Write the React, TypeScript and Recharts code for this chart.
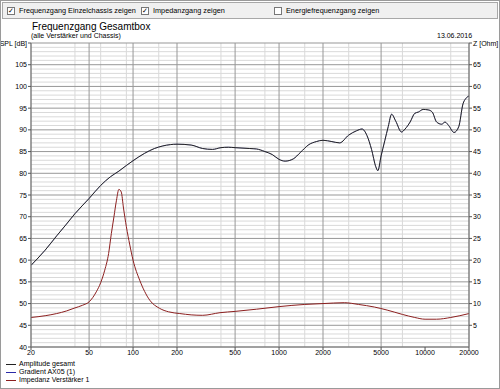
import { CartesianGrid, Line, LineChart, XAxis, YAxis } from "recharts";

// Frequenzgang Gesamtbox
const splFreq = [
  20, 25, 30, 35, 40, 50, 60, 70, 80, 90, 100, 120, 140, 160, 180, 200, 250, 300, 350, 400,
  450, 500, 630, 700, 800, 900, 1000, 1100, 1250, 1400, 1600, 1800, 2000, 2300, 2600, 3000,
  3400, 3700, 4000, 4300, 4600, 4750, 5000, 5300, 5600, 5900, 6300, 6900, 7300, 7900, 8500,
  9000, 9700, 10500, 11200, 12000, 13000, 13700, 14500, 15800, 17000, 18200, 19000, 20000,
];
const splDb = [
  58.8, 62.3, 65.6, 68.3, 70.7, 74.2, 77.2, 79.2, 80.5, 81.8, 82.9, 84.6, 85.7, 86.3, 86.6,
  86.7, 86.5, 85.7, 85.5, 85.9, 86.0, 85.9, 85.7, 85.6, 85.0, 84.3, 83.2, 82.8, 83.3, 84.8,
  86.6, 87.3, 87.6, 87.3, 87.0, 88.8, 89.8, 90.2, 88.7, 85.5, 81.5, 80.6, 84.0, 87.5, 90.8,
  93.6, 92.0, 89.5, 90.2, 91.8, 93.8, 94.1, 94.7, 94.6, 94.1, 91.8, 91.3, 91.8, 91.0, 89.4,
  90.7, 96.0, 97.2, 97.8,
];

const zFreq = [
  20, 25, 30, 35, 40, 45, 50, 56, 60, 64, 68, 71, 74, 77, 80, 83, 86, 90, 95, 100, 111, 120,
  130, 152, 175, 209, 250, 300, 394, 500, 700, 1000, 1500, 2000, 2800, 3500, 4500, 5500, 7000,
  8500, 10000, 12000, 15000, 20000,
];
const zOhm = [
  6.8, 7.2, 7.7, 8.3, 9.0, 9.6, 10.4, 12.7, 14.8, 17.7, 21.5, 26.1, 30.0, 33.8, 36.3, 35.7,
  32.0, 27.7, 23.5, 20.0, 15.4, 12.8, 10.8, 8.9, 8.1, 7.7, 7.4, 7.3, 7.9, 8.2, 8.7, 9.3, 9.8,
  10.0, 10.2, 9.8, 9.2, 8.5, 7.5, 6.8, 6.4, 6.4, 6.8, 7.7,
];

const xTicks = [20, 50, 100, 200, 500, 1000, 2000, 5000, 10000, 20000];
const xMinor = [
  30, 40, 60, 70, 80, 90, 150, 300, 400, 600, 700, 800, 900, 1500, 3000, 4000, 6000, 7000,
  8000, 9000, 15000,
];
const splTicks = [40, 45, 50, 55, 60, 65, 70, 75, 80, 85, 90, 95, 100, 105, 110];
const zTicks = [5, 10, 15, 20, 25, 30, 35, 40, 45, 50, 55, 60, 65, 70];

const legendItems = [
  { name: "Amplitude gesamt", color: "#222222" },
  { name: "Gradient AX05 (1)", color: "#2a2aa8" },
  { name: "Impedanz Verstärker 1", color: "#8c1f1f" },
];

const splData = splFreq.map((f, i) => ({ f, y: splDb[i] }));
const zData = zFreq.map((f, i) => ({ f, z: zOhm[i] }));
const yMinor = Array.from({ length: 69 }, (_, i) => 41 + i).filter((v) => v % 5 !== 0);

const FONT = "'Liberation Sans', Arial, sans-serif";

// tick ohne Zeilenumbruch (Recharts-Text bricht "SPL [dB]" sonst um)
function AxisTick(props: any) {
  const { x, y, payload, textAnchor, label } = props;
  const v = payload.value;
  const txt = label && label[0] === v ? label[1] : String(v);
  return (
    <text x={x} y={y} dy={2.5} textAnchor={textAnchor} fontSize={7} fontFamily={FONT} fill="#000">
      {txt}
    </text>
  );
}

function Check({ x, label, checked }: { x: number; label: string; checked: boolean }) {
  return (
    <>
      <div
        style={{
          position: "absolute",
          left: x,
          top: 6,
          width: 6,
          height: 6,
          border: "1px solid #777",
          background: "#fff",
          fontSize: 7,
          lineHeight: "6px",
          textAlign: "center",
        }}
      >
        {checked ? "✓" : ""}
      </div>
      <div style={{ position: "absolute", left: x + 12, top: 5, fontSize: 7.3, lineHeight: "9px" }}>
        {label}
      </div>
    </>
  );
}

export default function App() {
  return (
    <div
      style={{
        position: "absolute",
        left: 0,
        top: 0,
        width: 498,
        height: 387,
        border: "1px solid #9a9a9a",
        background: "#fff",
        fontFamily: FONT,
        color: "#000",
        overflow: "hidden",
      }}
    >
      <div
        style={{
          position: "absolute",
          left: 1,
          top: 1,
          width: 494,
          height: 15,
          border: "1px solid #a8a8a8",
          background: "#f0f0f0",
        }}
      />
      <Check x={6} label="Frequenzgang Einzelchassis zeigen" checked />
      <Check x={140} label="Impedanzgang zeigen" checked />
      <Check x={273} label="Energiefrequenzgang zeigen" checked={false} />

      <div style={{ position: "absolute", left: 31, top: 20, fontSize: 10, lineHeight: "12px" }}>
        Frequenzgang Gesamtbox
      </div>
      <div style={{ position: "absolute", left: 30, top: 31, fontSize: 7, lineHeight: "8px" }}>
        (alle Verstärker und Chassis)
      </div>
      <div style={{ position: "absolute", left: 436, top: 31, fontSize: 7, lineHeight: "8px" }}>
        13.06.2016
      </div>

      <div style={{ position: "absolute", left: -1, top: -1 }}>
        <LineChart width={500} height={389} margin={{ top: 43, right: 6, bottom: 30, left: 6 }}>
          <CartesianGrid
            yAxisId="spl"
            stroke="#d9d9d9"
            strokeWidth={1}
            fill="none"
            verticalValues={xMinor}
            horizontalValues={yMinor}
          />
          <CartesianGrid
            yAxisId="spl"
            stroke="#979797"
            strokeWidth={1}
            fill="none"
            verticalValues={xTicks}
            horizontalValues={splTicks}
          />
          <XAxis
            dataKey="f"
            type="number"
            scale="log"
            domain={[20, 20000]}
            ticks={xTicks}
            allowDataOverflow
            height={12}
            tickSize={3}
            tickMargin={0}
            tick={{ fontSize: 7, fill: "#000", fontFamily: FONT }}
            tickLine={{ stroke: "#555" }}
            axisLine={{ stroke: "#777" }}
          />
          <YAxis
            yAxisId="spl"
            type="number"
            domain={[40, 110]}
            ticks={splTicks}
            interval={0}
            width={25}
            tickSize={3}
            tickMargin={1}
            tick={<AxisTick label={[110, "SPL [dB]"]} />}
            tickLine={{ stroke: "#555" }}
            axisLine={{ stroke: "#777" }}
          />
          <YAxis
            yAxisId="z"
            orientation="right"
            type="number"
            domain={[0, 70]}
            ticks={zTicks}
            interval={0}
            width={25}
            tickSize={3}
            tickMargin={1}
            tick={<AxisTick label={[70, "Z [Ohm]"]} />}
            tickLine={{ stroke: "#555" }}
            axisLine={{ stroke: "#777" }}
          />
          <Line
            yAxisId="spl"
            data={splData}
            dataKey="y"
            type="monotone"
            stroke={legendItems[1].color}
            strokeWidth={0.4}
            dot={false}
            isAnimationActive={false}
          />
          <Line
            yAxisId="spl"
            data={splData}
            dataKey="y"
            type="monotone"
            stroke={legendItems[0].color}
            strokeWidth={1}
            dot={false}
            isAnimationActive={false}
          />
          <Line
            yAxisId="z"
            data={zData}
            dataKey="z"
            type="monotone"
            stroke={legendItems[2].color}
            strokeWidth={1}
            dot={false}
            isAnimationActive={false}
          />
        </LineChart>
      </div>

      {legendItems.map((it, i) => (
        <div
          key={it.name}
          style={{ position: "absolute", left: 5, top: 359 + i * 8, height: 8, display: "flex", alignItems: "center" }}
        >
          <div style={{ width: 10, height: 1, background: it.color, marginRight: 3 }} />
          <div style={{ fontSize: 7, lineHeight: "8px" }}>{it.name}</div>
        </div>
      ))}
    </div>
  );
}
